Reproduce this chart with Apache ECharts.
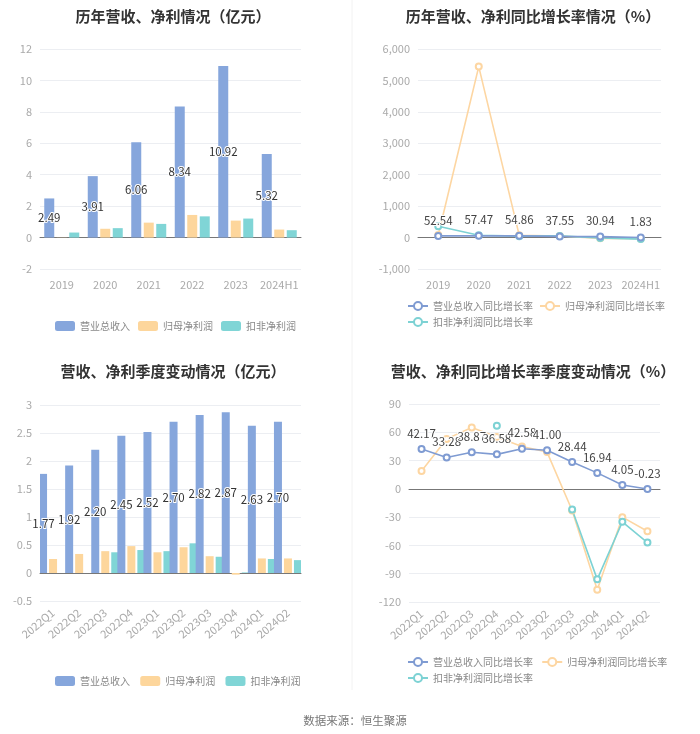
<!DOCTYPE html>
<html>
<head>
<meta charset="utf-8">
<script src="https://cdn.jsdelivr.net/npm/echarts@6/dist/echarts.min.js"></script>
<style>
  html, body { margin: 0; padding: 0; background: #fff; }
  #main { width: 700px; height: 734px; }
</style>
</head>
<body>
<div id="main"></div>
<script>
// yearly data (亿元 / %)
const years = ["2019", "2020", "2021", "2022", "2023", "2024H1"];
const yearRevenue = [2.49, 3.91, 6.06, 8.34, 10.92, 5.32];
const yearNetProfit = [0.01, 0.56, 0.95, 1.44, 1.08, 0.51];
const yearDeductProfit = [0.32, 0.60, 0.87, 1.35, 1.21, 0.47];
const yearRevenueGrowth = [52.54, 57.47, 54.86, 37.55, 30.94, 1.83];
const yearNetGrowth = [80, 5440, 70, 50, -25, -38];
const yearDeductGrowth = [360, 75, 45, 53, -12, -48];

// quarterly data
const quarters = ["2022Q1", "2022Q2", "2022Q3", "2022Q4", "2023Q1", "2023Q2", "2023Q3", "2023Q4", "2024Q1", "2024Q2"];
const qRevenue = [1.77, 1.92, 2.20, 2.45, 2.52, 2.70, 2.82, 2.87, 2.63, 2.70];
const qNetProfit = [0.25, 0.34, 0.39, 0.48, 0.37, 0.46, 0.30, -0.03, 0.26, 0.26];
const qDeductProfit = [null, null, 0.37, 0.41, 0.39, 0.53, 0.29, 0.01, 0.25, 0.23];
const qRevenueGrowth = [42.17, 33.28, 38.87, 36.58, 42.58, 41.00, 28.44, 16.94, 4.05, -0.23];
const qNetGrowth = [19, 53, 65, 55, 45, 39, -23, -107, -30, -45];
const qDeductGrowth = [null, null, null, 67, null, null, -22, -96, -35, -57];

const C_BLUE = "#86a6dc";
const C_ORANGE = "#fdd69c";
const C_CYAN = "#80d5d6";
const FONT = "'Noto Sans CJK SC', 'Noto Sans', sans-serif";

const myChart = echarts.init(document.getElementById("main"));

const titleStyle = { fontSize: 15, fontWeight: "bold", color: "#333", fontFamily: FONT };

function catAxis(gridIndex, data, rotate) {
  return {
    type: "category",
    gridIndex: gridIndex,
    data: data,
    axisLine: { lineStyle: { color: "#777" } },
    axisTick: { alignWithLabel: true, length: 4, lineStyle: { color: "#999" } },
    axisLabel: { color: "#aaa", fontSize: 11, rotate: rotate || 0, margin: 10, fontFamily: FONT, interval: 0 }
  };
}

function valAxis(gridIndex, min, max, interval, fmt) {
  return {
    type: "value",
    gridIndex: gridIndex,
    min: min,
    max: max,
    interval: interval,
    axisLine: { show: false },
    axisTick: { show: false },
    splitLine: { lineStyle: { color: "#eceef2" } },
    axisLabel: { color: "#aaa", fontSize: 11, fontFamily: FONT, formatter: fmt }
  };
}

const barLabel = {
  show: true,
  position: "inside",
  color: "#333",
  fontSize: 11.5,
  textBorderColor: "#fff",
  textBorderWidth: 2,
  formatter: (p) => p.value.toFixed(2)
};

function bars(name, data, color, axisIdx, label) {
  return {
    name: name,
    type: "bar",
    xAxisIndex: axisIdx,
    yAxisIndex: axisIdx,
    data: data,
    barWidth: axisIdx === 0 ? 10 : 8,
    barGap: "25%",
    itemStyle: { color: color },
    label: label ? barLabel : { show: false },
    z: label ? 3 : 2
  };
}

function line(name, data, color, axisIdx, label) {
  return {
    name: name,
    type: "line",
    xAxisIndex: axisIdx,
    yAxisIndex: axisIdx,
    data: data,
    symbol: "emptyCircle",
    symbolSize: 6,
    showSymbol: true,
    connectNulls: false,
    lineStyle: { color: color, width: 1.6 },
    itemStyle: { color: color, borderWidth: 1.4 },
    label: label ? {
      show: true,
      position: "top",
      distance: 6,
      color: "#444",
      fontSize: 11.5,
      textBorderColor: "#fff",
      textBorderWidth: 2,
      formatter: (p) => p.value.toFixed(2)
    } : { show: false },
    z: label ? 4 : 3
  };
}

const legendText = { color: "#888", fontSize: 10, fontFamily: FONT };

myChart.setOption({
  animation: false,
  textStyle: { fontFamily: FONT },
  title: [
    { text: "历年营收、净利情况（亿元）", left: 168, top: 4, textAlign: "center", textStyle: titleStyle },
    { text: "历年营收、净利同比增长率情况（%）", left: 528, top: 4, textAlign: "center", textStyle: titleStyle },
    { text: "营收、净利季度变动情况（亿元）", left: 168, top: 359, textAlign: "center", textStyle: titleStyle },
    { text: "营收、净利同比增长率季度变动情况（%）", left: 528, top: 359, textAlign: "center", textStyle: titleStyle },
    { text: "数据来源：恒生聚源", left: 350, top: 710, textAlign: "center", textStyle: { fontSize: 11.5, fontWeight: "normal", color: "#777", fontFamily: FONT } }
  ],
  legend: [
    {
      left: 50, top: 316, itemWidth: 20, itemHeight: 10, itemGap: 8, textStyle: legendText,
      data: [
        { name: "营业总收入", icon: "roundRect", itemStyle: { color: C_BLUE } },
        { name: "归母净利润", icon: "roundRect", itemStyle: { color: C_ORANGE } },
        { name: "扣非净利润", icon: "roundRect", itemStyle: { color: C_CYAN } }
      ],
      selectedMode: false
    },
    {
      left: 402, top: 296, width: 270, itemWidth: 20, itemHeight: 10, itemGap: 6, textStyle: legendText,
      data: ["营业总收入同比增长率", "归母净利润同比增长率", "扣非净利润同比增长率"],
      selectedMode: false
    },
    {
      left: 50, top: 671, itemWidth: 20, itemHeight: 10, itemGap: 8, textStyle: legendText,
      data: [
        { name: "营业总收入 ", icon: "roundRect", itemStyle: { color: C_BLUE } },
        { name: "归母净利润 ", icon: "roundRect", itemStyle: { color: C_ORANGE } },
        { name: "扣非净利润 ", icon: "roundRect", itemStyle: { color: C_CYAN } }
      ],
      selectedMode: false
    },
    {
      left: 402, top: 652, width: 270, itemWidth: 20, itemHeight: 10, itemGap: 6, textStyle: legendText,
      data: ["营业总收入同比增长率 ", "归母净利润同比增长率 ", "扣非净利润同比增长率 "],
      selectedMode: false
    }
  ],
  grid: [
    { left: 40, top: 49, width: 261, height: 220 },
    { left: 418, top: 49, width: 243, height: 220 },
    { left: 40, top: 405, width: 261, height: 196 },
    { left: 409, top: 404, width: 251, height: 198 }
  ],
  xAxis: [
    catAxis(0, years),
    catAxis(1, years),
    catAxis(2, quarters, 40),
    catAxis(3, quarters, 40)
  ],
  yAxis: [
    valAxis(0, -2, 12, 2),
    valAxis(1, -1000, 6000, 1000, (v) => v.toLocaleString("en-US")),
    valAxis(2, -0.5, 3, 0.5),
    valAxis(3, -120, 90, 30)
  ],
  graphic: [
    { type: "line", shape: { x1: 352, y1: 0, x2: 352, y2: 690 }, style: { stroke: "#f2f2f2", lineWidth: 1 }, silent: true }
  ],
  series: [
    bars("营业总收入", yearRevenue, C_BLUE, 0, true),
    bars("归母净利润", yearNetProfit, C_ORANGE, 0, false),
    bars("扣非净利润", yearDeductProfit, C_CYAN, 0, false),

    line("营业总收入同比增长率", yearRevenueGrowth, "#7f9bd2", 1, true),
    line("归母净利润同比增长率", yearNetGrowth, "#fdd6a2", 1, false),
    line("扣非净利润同比增长率", yearDeductGrowth, "#7dd2d4", 1, false),

    bars("营业总收入 ", qRevenue, C_BLUE, 2, true),
    bars("归母净利润 ", qNetProfit, C_ORANGE, 2, false),
    bars("扣非净利润 ", qDeductProfit, C_CYAN, 2, false),

    line("营业总收入同比增长率 ", qRevenueGrowth, "#7f9bd2", 3, true),
    line("归母净利润同比增长率 ", qNetGrowth, "#fdd6a2", 3, false),
    line("扣非净利润同比增长率 ", qDeductGrowth, "#7dd2d4", 3, false)
  ]
});

window.addEventListener("resize", () => myChart.resize());
</script>
</body>
</html>
